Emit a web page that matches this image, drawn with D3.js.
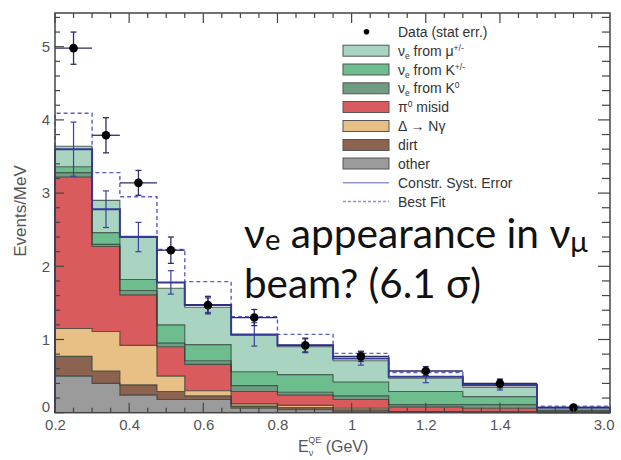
<!DOCTYPE html>
<html><head><meta charset="utf-8">
<script src="https://cdn.jsdelivr.net/npm/d3@7/dist/d3.min.js"></script>
<style>html,body{margin:0;padding:0;background:#fff;}svg{display:block;}</style>
</head><body>
<svg id="c" width="621" height="460"></svg>
<script>
// ---- data ----
const binEdges = [0.2,0.3,0.375,0.475,0.55,0.675,0.8,0.95,1.1,1.3,1.5,3.0];
const other  = [0.50,0.40,0.24,0.18,0.18,0.06,0.04,0.02,0.01,0.00,0.00];
const dirt   = [0.27,0.17,0.14,0.11,0.05,0.03,0.03,0.02,0.00,0.01,0.00];
const deltaNg= [0.38,0.54,0.54,0.21,0.07,0.03,0.03,0.02,0.00,0.00,0.00];
const pi0    = [2.07,1.16,0.69,0.40,0.36,0.17,0.14,0.12,0.07,0.05,0.01];
const nueK0  = [0.06,0.03,0.06,0.05,0.05,0.08,0.04,0.05,0.03,0.05,0.01];
const nueKpm = [0.08,0.16,0.15,0.25,0.22,0.19,0.24,0.19,0.18,0.11,0.01];
const nueMu  = [0.28,0.44,0.59,0.50,0.51,0.50,0.38,0.29,0.18,0.13,0.02];
const constrPred = [3.60,2.78,2.40,1.78,1.47,1.07,0.92,0.74,0.49,0.38,0.07];
const constrErr  = [0.37,0.25,0.20,0.16,0.10,0.16,0.10,0.09,0.08,0.07,0.02];
const bestFit    = [4.09,3.28,2.95,2.23,1.79,1.31,1.07,0.81,0.55,0.39,0.09];
const dataVal    = [4.98,3.79,3.14,2.22,1.47,1.30,0.92,0.77,0.57,0.40,0.07];
const dataErr    = [0.22,0.24,0.17,0.18,0.12,0.11,0.09,0.07,0.06,0.06,0.02];
const xTickVals  = [0.2,0.4,0.6,0.8,1.0,1.2,1.4,3.0];
const xTickLabels= ["0.2","0.4","0.6","0.8","1","1.2","1.4","3.0"];
const yTickVals  = [0,1,2,3,4,5];

const layerNames = ["other","dirt","deltaNg","pi0","nueK0","nueKpm","nueMu"];
const layerData = {other,dirt,deltaNg,pi0,nueK0,nueKpm,nueMu};
const colors = {other:"#9b9b9b",dirt:"#8c6250",deltaNg:"#e8bf85",pi0:"#d95b5d",
  nueK0:"#6f9c83",nueKpm:"#6dbd8e",nueMu:"#a9d4c1"};

// ---- layout ----
const L=55,R=610,T=13,B=412.7;
const svg=d3.select("#c");
const x=d3.scaleLinear().domain([0.2,1.5,3.0]).range([L,537,R]);
const y=d3.scaleLinear().domain([0,(B-T)/73.2]).range([B,T]);

const nb=binEdges.length-1;
const rows=d3.range(nb).map(i=>{const r={i};layerNames.forEach(k=>r[k]=layerData[k][i]);return r;});
const stack=d3.stack().keys(layerNames)(rows);

function stepPts(vals0, vals1){
  const pts=[];
  for(let i=0;i<nb;i++){
    pts.push({x:binEdges[i],y0:vals0[i],y1:vals1[i]});
    pts.push({x:binEdges[i+1],y0:vals0[i],y1:vals1[i]});
  }
  return pts;
}
const area=d3.area().x(d=>x(d.x)).y0(d=>y(d.y0)).y1(d=>y(d.y1));
const line=d3.line().x(d=>x(d.x)).y(d=>y(d.y1));

const g=svg.append("g");
stack.forEach(s=>{
  const pts=stepPts(s.map(d=>d[0]),s.map(d=>d[1]));
  g.append("path").attr("d",area(pts)).attr("fill",colors[s.key]).attr("stroke","none");
});
stack.forEach(s=>{
  const pts=stepPts(s.map(d=>d[0]),s.map(d=>d[1]));
  const full=[{x:binEdges[0],y1:0},...pts,{x:binEdges[nb],y1:0}];
  g.append("path").attr("d",line(full)).attr("fill","none")
   .attr("stroke","#28392f").attr("stroke-opacity",0.75).attr("stroke-width",1.1);
});

function stepLine(vals){
  const pts=[{x:binEdges[0],y1:0}];
  for(let i=0;i<nb;i++){pts.push({x:binEdges[i],y1:vals[i]});pts.push({x:binEdges[i+1],y1:vals[i]});}
  pts.push({x:binEdges[nb],y1:0});
  return pts;
}
g.append("path").attr("d",line(stepLine(bestFit))).attr("fill","none")
 .attr("stroke","#5a5fc4").attr("stroke-width",1.4).attr("stroke-dasharray","4,3");
g.append("path").attr("d",line(stepLine(constrPred))).attr("fill","none")
 .attr("stroke","#343a96").attr("stroke-width",2);

const centers=d3.range(nb).map(i=>(binEdges[i]+binEdges[i+1])/2);
d3.range(nb).forEach(i=>{
  const cx=x(centers[i]);
  g.append("line").attr("x1",cx).attr("x2",cx).attr("y1",y(constrPred[i]-constrErr[i])).attr("y2",y(constrPred[i]+constrErr[i]))
   .attr("stroke","#3a40a0").attr("stroke-width",1.2);
  [constrPred[i]-constrErr[i],constrPred[i]+constrErr[i]].forEach(v=>{
    g.append("line").attr("x1",cx-3).attr("x2",cx+3).attr("y1",y(v)).attr("y2",y(v)).attr("stroke","#3a40a0").attr("stroke-width",1.2);
  });
});
d3.range(nb).forEach(i=>{
  const cx=x(centers[i]), cy=y(dataVal[i]);
  const col="#2a2d66";
  g.append("line").attr("x1",x(binEdges[i])).attr("x2",x(binEdges[i+1])).attr("y1",cy).attr("y2",cy).attr("stroke",col).attr("stroke-width",1.3);
  g.append("line").attr("x1",cx).attr("x2",cx).attr("y1",y(dataVal[i]-dataErr[i])).attr("y2",y(dataVal[i]+dataErr[i])).attr("stroke",col).attr("stroke-width",1.3);
  [dataVal[i]-dataErr[i],dataVal[i]+dataErr[i]].forEach(v=>{
    g.append("line").attr("x1",cx-3).attr("x2",cx+3).attr("y1",y(v)).attr("y2",y(v)).attr("stroke",col).attr("stroke-width",1.3);
  });
  g.append("circle").attr("cx",cx).attr("cy",cy).attr("r",4.3).attr("fill","#000");
});

// ---- frame & axes ----
svg.append("rect").attr("x",L).attr("y",T).attr("width",R-L).attr("height",B-T)
 .attr("fill","none").attr("stroke","#444").attr("stroke-width",1.5);
const xMinor=d3.range(0.2,1.5001,0.05).concat([1.875,2.25,2.625]);
const yMinor=d3.range(0,5.41,0.2);
const tk=svg.append("g").attr("stroke","#444").attr("stroke-width",1.2);
xMinor.forEach(v=>{
  const major=xTickVals.some(t=>Math.abs(t-v)<1e-6);
  const len=major?10:5;
  tk.append("line").attr("x1",x(v)).attr("x2",x(v)).attr("y1",B).attr("y2",B-len);
  tk.append("line").attr("x1",x(v)).attr("x2",x(v)).attr("y1",T).attr("y2",T+len);
});
yMinor.forEach(v=>{
  const major=Math.abs(v-Math.round(v))<1e-6;
  const len=major?9:5;
  tk.append("line").attr("x1",L).attr("x2",L+len).attr("y1",y(v)).attr("y2",y(v));
  tk.append("line").attr("x1",R).attr("x2",R-len-3).attr("y1",y(v)).attr("y2",y(v));
});
const xAxis=svg.append("g").attr("transform",`translate(0,${B})`)
 .call(d3.axisBottom(x).tickValues(xTickVals).tickFormat((d,i)=>xTickLabels[i]).tickSize(0).tickPadding(7));
xAxis.select(".domain").remove();
xAxis.selectAll("text").attr("font-family","Liberation Sans, Arial, sans-serif").attr("font-size",15).attr("fill","#555")
 .filter((d,i)=>i===xTickVals.length-1).attr("text-anchor","end").attr("dx",4);
const yAxis=svg.append("g").attr("transform",`translate(${L},0)`)
 .call(d3.axisLeft(y).tickValues(yTickVals).tickFormat(d3.format("d")).tickSize(0).tickPadding(5));
yAxis.select(".domain").remove();
yAxis.selectAll("text").attr("font-family","Liberation Sans, Arial, sans-serif").attr("font-size",15).attr("fill","#555")
 .filter(d=>d===0).attr("dy","-0.05em");

// axis titles
svg.append("text").attr("transform","translate(26,211) rotate(-90)").attr("text-anchor","middle")
 .attr("font-family","Liberation Sans, Arial, sans-serif").attr("font-size",17).attr("fill","#555").text("Events/MeV");
const xt=svg.append("text").attr("x",298).attr("y",452).attr("font-family","Liberation Sans, Arial, sans-serif")
 .attr("font-size",16).attr("fill","#555");
xt.append("tspan").text("E");
xt.append("tspan").attr("font-size",9).attr("dy",4).text("ν");
xt.append("tspan").attr("font-size",9).attr("dx",-5).attr("dy",-13).text("QE");
xt.append("tspan").attr("dy",9).text(" (GeV)");

// ---- legend ----
const lf="Liberation Sans, Arial, sans-serif";
const lg=svg.append("g").attr("font-family",lf).attr("font-size",14).attr("fill","#333");
const legendItems=[
 {t:[["Data (stat err.)"]],type:"dot",y:31.7},
 {t:[["ν"],["e","sub"],[" from μ"],["+/-","sup"]],type:"nueMu",y:50.7},
 {t:[["ν"],["e","sub"],[" from K"],["+/-","sup"]],type:"nueKpm",y:69.5},
 {t:[["ν"],["e","sub"],[" from K"],["0","sup"]],type:"nueK0",y:88.3},
 {t:[["π"],["0","sup"],[" misid"]],type:"pi0",y:107},
 {t:[["Δ → Nγ"]],type:"deltaNg",y:126},
 {t:[["dirt"]],type:"dirt",y:145},
 {t:[["other"]],type:"other",y:163.5},
 {t:[["Constr. Syst. Error"]],type:"solid",y:182.7},
 {t:[["Best Fit"]],type:"dash",y:201.5}
];
legendItems.forEach(it=>{
  if(it.type==="dot") lg.append("circle").attr("cx",366.5).attr("cy",it.y).attr("r",2.8).attr("fill","#000");
  else if(it.type==="solid") lg.append("line").attr("x1",343).attr("x2",389).attr("y1",it.y).attr("y2",it.y).attr("stroke","#8f93cc").attr("stroke-width",1.6);
  else if(it.type==="dash") lg.append("line").attr("x1",343).attr("x2",389).attr("y1",it.y).attr("y2",it.y).attr("stroke","#8f93cc").attr("stroke-width",1.4).attr("stroke-dasharray","3,2");
  else lg.append("rect").attr("x",343).attr("y",it.y-5.5).attr("width",46).attr("height",11)
       .attr("fill",colors[it.type]).attr("stroke","#555").attr("stroke-width",1);
  const tx=lg.append("text").attr("x",398).attr("y",it.y+5);
  it.t.forEach(p=>{
    const s=tx.append("tspan").text(p[0]);
    if(p[1]==="sub") s.attr("font-size",8.5).attr("baseline-shift","-3");
    if(p[1]==="sup") s.attr("font-size",8.5).attr("baseline-shift","5");
  });
});

// ---- overlay annotation ----
const af="Lato, 'Open Sans', sans-serif";
const a1=svg.append("text").attr("x",244).attr("y",248).attr("font-family",af).attr("fill","#111");
a1.append("tspan").text("ν");
a1.append("tspan").attr("font-size","0.72em").attr("baseline-shift","-2").text("e");
a1.append("tspan").text(" appearance in ν");
a1.append("tspan").attr("font-size","0.72em").attr("baseline-shift","-4").text("μ");
const a2=svg.append("text").attr("x",244).attr("y",298).attr("font-family",af).attr("fill","#111").text("beam? (6.1 σ)");
function fit(el,w){
  el.attr("font-size",30);
  const wl=el.node().getComputedTextLength();
  el.attr("font-size",30*w/wl);
}
fit(a1,344);
fit(a2,237);
</script>
</body></html>
